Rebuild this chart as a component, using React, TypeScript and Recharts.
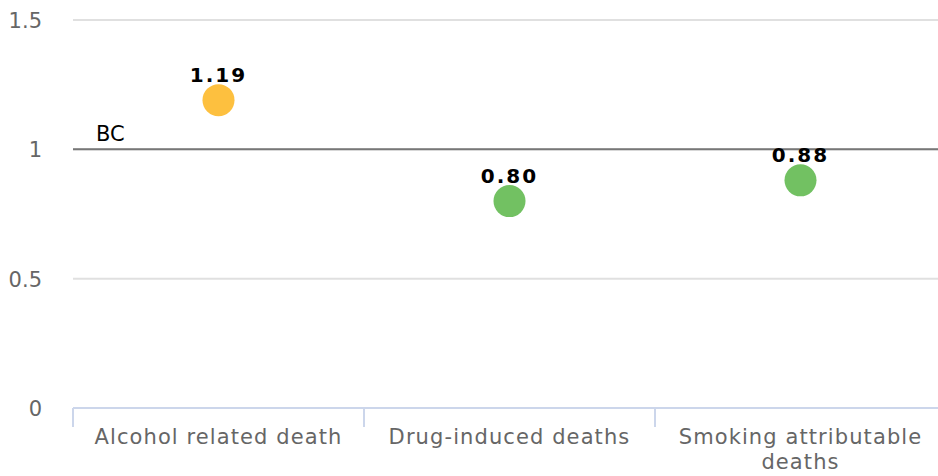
import { ComposedChart, Scatter, XAxis, YAxis, CartesianGrid, ReferenceLine, Cell } from "recharts"

const categories = ["Alcohol related death", "Drug-induced deaths", "Smoking attributable deaths"]
const tickLines = [["Alcohol related death"], ["Drug-induced deaths"], ["Smoking attributable", "deaths"]]
const values = [1.19, 0.8, 0.88]
const dotColors = ["#FDC03F", "#72C162", "#72C162"]
const yTicks = [0, 0.5, 1, 1.5]
const baseline = 1
const baselineLabel = "BC"

// each category sits in the middle of its band
const data = categories.map((name, i) => ({ name, pos: i + 0.5, value: values[i] }))
const xTicks = data.map((d) => d.pos)

const W = 946
const H = 476
const LEFT = 73
const band = (W - LEFT) / categories.length
const font = "'DejaVu Sans', Verdana, sans-serif"

// category label plus the tick mark at the left edge of its band
const XTick = (props: any) => {
  const { x, y, index } = props
  const lines = tickLines[index] || [categories[index]]
  const left = x - band / 2
  return (
    <g>
      <line x1={left} x2={left} y1={y - 8} y2={y + 11} stroke="#ccd6eb" strokeWidth={2} />
      <text x={x} y={y + 28} textAnchor="middle" fill="#666" fontSize={21} letterSpacing={1.1} fontFamily={font}>
        {lines.map((l: string, k: number) => (
          <tspan key={k} x={x} dy={k === 0 ? 0 : 25}>
            {l}
          </tspan>
        ))}
      </text>
    </g>
  )
}

const YTick = (props: any) => {
  const { y, payload } = props
  return (
    <text x={42} y={y + 8} textAnchor="end" fill="#666" fontSize={21} fontFamily={font}>
      {payload.value}
    </text>
  )
}

const Dot = (props: any) => {
  const { cx, cy, fill, payload } = props
  return (
    <g>
      <circle cx={cx} cy={cy} r={16} fill={fill} />
      <text x={cx} y={cy - 18} textAnchor="middle" fill="#000" fontSize={20} fontWeight="bold" letterSpacing={2} fontFamily={font}>
        {payload.value.toFixed(2)}
      </text>
    </g>
  )
}

export default function App() {
  return (
    <div style={{ position: "fixed", left: 0, top: 0, width: 938, height: 476, overflow: "hidden", background: "#fff" }}>
      <ComposedChart width={W} height={H} data={data} margin={{ top: 20, right: 0, bottom: 0, left: 0 }}>
        <CartesianGrid vertical={false} stroke="#e0e0e0" strokeWidth={2} />
        <XAxis
          dataKey="pos"
          type="number"
          domain={[0, categories.length]}
          ticks={xTicks}
          height={68}
          axisLine={{ stroke: "#ccd6eb", strokeWidth: 2 }}
          tickLine={false}
          tick={<XTick />}
          interval={0}
        />
        <YAxis width={LEFT} domain={[0, 1.5]} ticks={yTicks} axisLine={false} tickLine={false} tick={<YTick />} />
        <ReferenceLine
          y={baseline}
          stroke="#777"
          strokeWidth={2}
          label={(p: any) => (
            <text x={p.viewBox.x + 23} y={p.viewBox.y - 8} fill="#000" fontSize={21} fontFamily={font}>
              {baselineLabel}
            </text>
          )}
        />
        <Scatter dataKey="value" shape={<Dot />} isAnimationActive={false}>
          {data.map((d, i) => (
            <Cell key={d.name} fill={dotColors[i]} />
          ))}
        </Scatter>
      </ComposedChart>
    </div>
  )
}
